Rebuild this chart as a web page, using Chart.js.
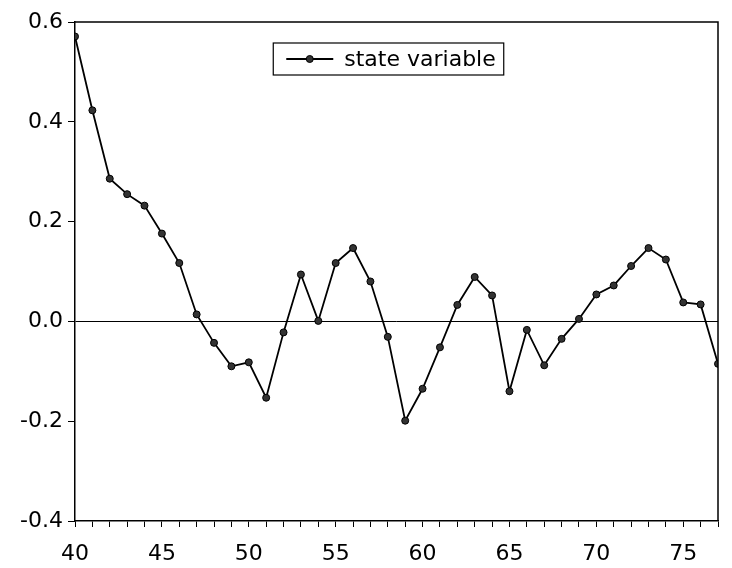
<!DOCTYPE html>
<html lang="en">

<head>
    <meta charset="UTF-8">
    <title>State variable</title>
    <script src="https://cdn.jsdelivr.net/npm/chart.js"></script>
    <style>
        html, body {
            margin: 0;
            padding: 0;
            background: #fff;
        }

        .wrap {
            width: 732px;
            height: 568px;
        }
    </style>
</head>

<body>
    <div class="wrap">
        <canvas id="stateChart" width="732" height="568"></canvas>
    </div>

    <script>
        // data
        const years = [40, 41, 42, 43, 44, 45, 46, 47, 48, 49,
            50, 51, 52, 53, 54, 55, 56, 57, 58, 59,
            60, 61, 62, 63, 64, 65, 66, 67, 68, 69,
            70, 71, 72, 73, 74, 75, 76, 77];
        const stateVariable = [0.571, 0.423, 0.286, 0.255, 0.232, 0.176, 0.117, 0.014, -0.043, -0.090,
            -0.082, -0.153, -0.022, 0.094, 0.001, 0.117, 0.147, 0.080, -0.031, -0.199,
            -0.135, -0.052, 0.033, 0.089, 0.052, -0.140, -0.017, -0.088, -0.035, 0.005,
            0.054, 0.072, 0.111, 0.147, 0.124, 0.038, 0.034, -0.085];
        const yTicks = [-0.4, -0.2, 0.0, 0.2, 0.4, 0.6];
        const xLabelTicks = [40, 45, 50, 55, 60, 65, 70, 75];

        const FONT = '"DejaVu Sans", "Liberation Sans", Arial, sans-serif';

        // box round the plot (top + right sides)
        const frame = {
            id: 'frame',
            afterDraw(chart) {
                const { ctx, chartArea: a } = chart;
                ctx.save();
                ctx.strokeStyle = '#000';
                ctx.lineWidth = 1.5;
                ctx.beginPath();
                ctx.moveTo(a.left, a.top);
                ctx.lineTo(a.right, a.top);
                ctx.lineTo(a.right, a.bottom);
                ctx.stroke();
                ctx.restore();
            }
        };

        // legend drawn inside the plot, with a box
        const boxLegend = {
            id: 'boxLegend',
            afterDraw(chart) {
                const { ctx, chartArea: a } = chart;
                const ds = chart.data.datasets[0];
                ctx.save();
                ctx.font = '22px ' + FONT;
                const tw = ctx.measureText(ds.label).width;
                const sample = 47, gap = 11, padL = 13, padR = 8, h = 32;
                const w = padL + sample + gap + tw + padR;
                const x = (a.left + a.right) / 2 - w / 2 - 8;
                const y = a.top + 21;
                ctx.strokeStyle = '#000';
                ctx.lineWidth = 1.2;
                ctx.strokeRect(x, y, w, h);
                const my = y + h / 2;
                ctx.strokeStyle = ds.borderColor;
                ctx.lineWidth = ds.borderWidth;
                ctx.beginPath();
                ctx.moveTo(x + padL, my);
                ctx.lineTo(x + padL + sample, my);
                ctx.stroke();
                ctx.beginPath();
                ctx.arc(x + padL + sample / 2, my, ds.pointRadius, 0, Math.PI * 2);
                ctx.fillStyle = ds.pointBackgroundColor;
                ctx.fill();
                ctx.lineWidth = ds.pointBorderWidth;
                ctx.strokeStyle = ds.pointBorderColor;
                ctx.stroke();
                ctx.fillStyle = '#000';
                ctx.textBaseline = 'middle';
                ctx.fillText(ds.label, x + padL + sample + gap, my + 1);
                ctx.restore();
            }
        };

        const ctx = document.getElementById('stateChart').getContext('2d');
        const stateChart = new Chart(ctx, {
            type: 'line',
            data: {
                datasets: [{
                    label: 'state variable',
                    data: years.map((yr, i) => ({ x: yr, y: stateVariable[i] })),
                    borderColor: '#000',
                    borderWidth: 1.8,
                    pointRadius: 3.5,
                    pointBackgroundColor: '#333',
                    pointBorderColor: '#000',
                    pointBorderWidth: 1,
                    tension: 0,
                    fill: false
                }]
            },
            options: {
                responsive: false,
                animation: false,
                layout: {
                    padding: { left: 3, right: 11, top: 22, bottom: 0 }
                },
                plugins: {
                    legend: { display: false },
                    tooltip: { enabled: false }
                },
                scales: {
                    x: {
                        type: 'linear',
                        min: 40,
                        max: 77,
                        afterBuildTicks(scale) {
                            scale.ticks = years.map(v => ({ value: v }));
                        },
                        afterFit(scale) {
                            scale.height = 47;
                        },
                        ticks: {
                            autoSkip: false,
                            maxRotation: 0,
                            padding: 14,
                            color: '#000',
                            font: { family: FONT, size: 22 },
                            callback: v => xLabelTicks.includes(v) ? String(v) : ''
                        },
                        grid: {
                            drawOnChartArea: false,
                            tickColor: '#000',
                            tickLength: 6,
                            tickWidth: 1
                        },
                        border: { color: '#000', width: 1.5 }
                    },
                    y: {
                        min: -0.4,
                        max: 0.6,
                        afterBuildTicks(scale) {
                            scale.ticks = yTicks.map(v => ({ value: v }));
                        },
                        afterFit(scale) {
                            scale.width = 72;
                        },
                        ticks: {
                            padding: 5,
                            color: '#000',
                            font: { family: FONT, size: 22 },
                            callback: v => v.toFixed(1)
                        },
                        grid: {
                            color: c => (c.tick && c.tick.value === 0) ? '#000' : 'rgba(0,0,0,0)',
                            lineWidth: 1,
                            tickColor: '#000',
                            tickLength: 7
                        },
                        border: { color: '#000', width: 1.5 }
                    }
                }
            },
            plugins: [frame, boxLegend]
        });
    </script>

</body>

</html>
